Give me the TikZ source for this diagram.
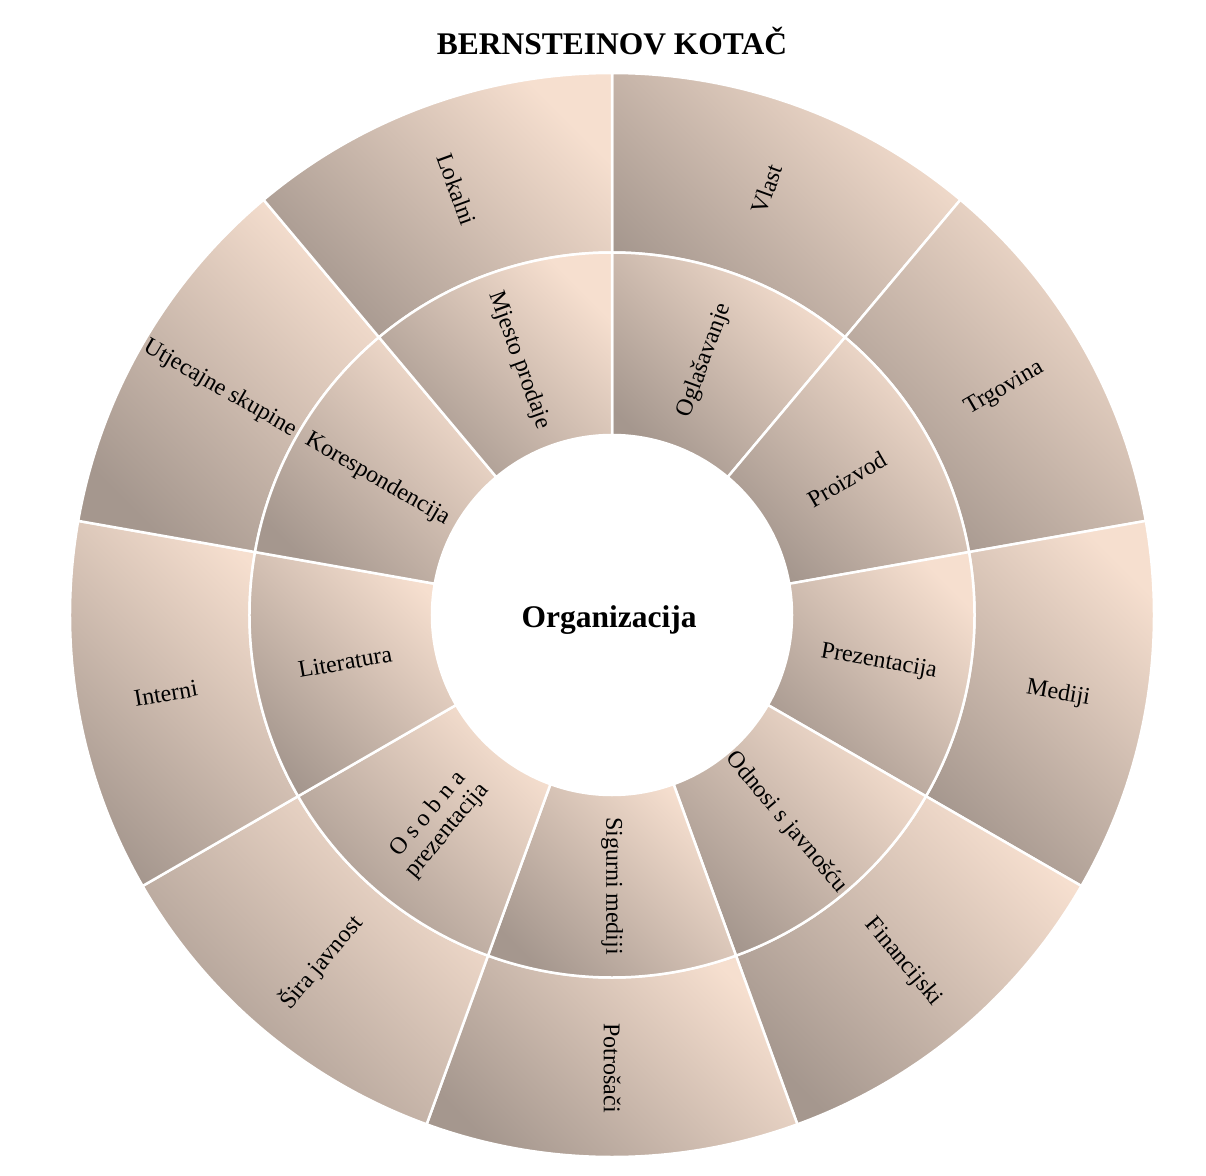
\documentclass[tikz,border=0pt]{standalone}
\usepackage{fontspec}
\setmainfont{Liberation Serif}
\definecolor{segdark}{RGB}{165,151,142}
\definecolor{seglight}{RGB}{246,223,207}
\begin{document}
\begin{tikzpicture}[x=1pt,y=1pt,
  seg/.style={top color=seglight, bottom color=segdark, shading angle=-45, draw=white, line width=2.5pt, line join=round},
  lbl/.style={font=\fontsize{24}{25}\selectfont, text=black, align=center, inner sep=0pt},
  ttl/.style={font=\bfseries\fontsize{31.5}{34}\selectfont, text=black, inner sep=0pt},
]
\useasboundingbox (-612,-560) rectangle (594,615);
\fill[white] (-612,-560) rectangle (594,615);
\def\rA{180}
\def\rB{362.5}
\def\rC{542}
% outer ring segments
\foreach \a in {50,10,-30,-70,-110,-150,170,130,90}{
  \pgfmathsetmacro\b{\a+40}
  \path[seg] (\a:\rB) arc[start angle=\a, end angle=\b, radius=\rB]
     -- (\b:\rC) arc[start angle=\b, end angle=\a, radius=\rC] -- cycle;
}
% inner ring segments
\foreach \a in {50,10,-30,-70,-110,-150,170,130,90}{
  \pgfmathsetmacro\b{\a+40}
  \path[seg] (\a:\rA) arc[start angle=\a, end angle=\b, radius=\rA]
     -- (\b:\rB) arc[start angle=\b, end angle=\a, radius=\rB] -- cycle;
}
% centre
\fill[white] (0,0) circle[radius=\rA-1];
\node[ttl, anchor=base] (center) at (-3,-12) {Organizacija};
\node[ttl, anchor=base] (title) at (0,560) {BERNSTEINOV KOTAČ};
% inner labels (mid radius 271)
\node[lbl, rotate=70]  (oglas) at (70:271)   {Oglašavanje};
\node[lbl, rotate=30]  (proiz) at (30:271)   {Proizvod};
\node[lbl, rotate=-10] (prez)  at (-10:271)  {Prezentacija};
\node[lbl, rotate=-50] (odnosi) at (-50:271) {Odnosi s javnošću};
\node[lbl, rotate=-90] (sigurni) at (-90:271) {Sigurni mediji};
\node[lbl, rotate=50]  (osobna) at (-130:271) {O s o b n a\\prezentacija};
\node[lbl, rotate=10]  (lit)   at (190:271)  {Literatura};
\node[lbl, rotate=-30] (kor)   at (150:271)  {Korespondencija};
\node[lbl, rotate=-70] (mjesto) at (110:271) {Mjesto prodaje};
% outer labels (mid radius 453)
\node[lbl, rotate=70]  (vlast) at (70:453)   {Vlast};
\node[lbl, rotate=30]  (trg)   at (30:453)   {Trgovina};
\node[lbl, rotate=-10] (med)   at (-10:453)  {Mediji};
\node[lbl, rotate=-50] (fin)   at (-50:453)  {Financijski};
\node[lbl, rotate=-90] (potr)  at (-90:453)  {Potrošači};
\node[lbl, rotate=50]  (sira)  at (-130:453) {Šira javnost};
\node[lbl, rotate=10]  (int)   at (190:453)  {Interni};
\node[lbl, rotate=-30] (utj)   at (150:453)  {Utjecajne skupine};
\node[lbl, rotate=-70] (lok)   at (110:453)  {Lokalni};
\end{tikzpicture}
\end{document}
